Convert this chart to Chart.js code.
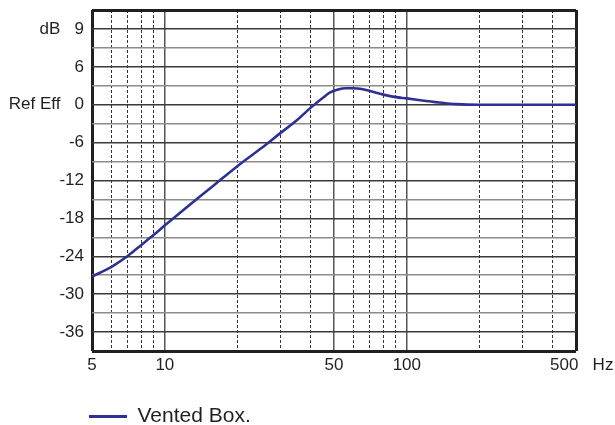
<!DOCTYPE html>
<html>
<head>
<meta charset="utf-8">
<script src="https://cdn.jsdelivr.net/npm/chart.js@4/dist/chart.umd.min.js"></script>
<style>
  html, body { margin: 0; padding: 0; background: #fff; }
  #wrap { width: 615px; height: 425px; position: relative; }
</style>
</head>
<body>
<div id="wrap"><canvas id="resp"></canvas></div>
<script>
// response (Hz / dB)
const freqHz = [5, 6, 7, 8, 9, 10, 12, 14, 16, 20, 25, 30, 35, 40, 45, 48, 52, 56, 60, 65, 70, 80, 90, 100, 120, 140, 160, 200, 250, 300, 400, 500];
const ventedDb = [-27.2, -25.7, -24.0, -22.2, -20.6, -19.1, -16.6, -14.5, -12.7, -9.7, -6.9, -4.5, -2.5, -0.5, 1.1, 1.9, 2.4, 2.6, 2.6, 2.5, 2.2, 1.6, 1.2, 1.0, 0.6, 0.3, 0.1, 0.0, 0.0, 0.0, 0.0, 0.0];

const xTicks = [5, 6, 7, 8, 9, 10, 20, 30, 40, 50, 60, 70, 80, 90, 100, 200, 300, 400, 500];
const xSolid = [10, 50, 100];
const xTickLabels = { 5: "5", 10: "10", 50: "50", 100: "100", 500: "500     " };

const yTicks = [-39, -36, -33, -30, -27, -24, -21, -18, -15, -12, -9, -6, -3, 0, 3, 6, 9, 12, 15];
const yTickLabels = { "-36": "-36", "-30": "-30", "-24": "-24", "-18": "-18", "-12": "-12", "-6": "-6", "0": "Ref Eff   0", "6": "6", "12": "dB   9" };

const FONT = '"Liberation Sans", Arial, sans-serif';
const INK = "#231f20";
const BLUE = "#2e3192";
const TICK_SIZE = 17;
const LEGEND_LEFT = 79;

Chart.defaults.font.family = FONT;
Chart.defaults.color = INK;

const hzLabel = {
  id: "hzLabel",
  afterLayout(chart){
    // legend sits under the plot, not at the page edge
    const lg = chart.legend;
    if (lg) lg.left = LEGEND_LEFT;
  },
  afterDraw(chart){
    const { ctx, chartArea, scales } = chart;
    ctx.save();
    ctx.font = TICK_SIZE + "px " + FONT;
    ctx.fillStyle = INK;
    ctx.textAlign = "center";
    ctx.textBaseline = "middle";
    ctx.fillText("Hz", chartArea.right + 27, scales.x.top + 4 + TICK_SIZE * 0.6);
    ctx.restore();
  }
};

function isEdgeX(v){ return v === xTicks[0] || v === xTicks[xTicks.length - 1]; }
function isEdgeY(v){ return v === yTicks[0] || v === yTicks[yTicks.length - 1]; }

new Chart(document.getElementById("resp"), {
  type: "line",
  data: {
    labels: freqHz,
    datasets: [{
      label: "Vented Box.",
      data: freqHz.map((f, i) => ({ x: f, y: ventedDb[i] })),
      borderColor: BLUE,
      backgroundColor: BLUE,
      borderWidth: 2.6,
      pointRadius: 0,
      fill: false,
      cubicInterpolationMode: "monotone"
    }]
  },
  options: {
    responsive: true,
    maintainAspectRatio: false,
    animation: false,
    layout: { padding: { top: 10, right: 39, bottom: -12, left: 0 } },
    plugins: {
      tooltip: { enabled: false },
      legend: {
        position: "bottom",
        align: "start",
        labels: {
          font: { size: 21 },
          color: INK,
          boxWidth: 38,
          boxHeight: 3,
          padding: 10,
          generateLabels: chart => Chart.defaults.plugins.legend.labels.generateLabels(chart).map(l => ({ ...l, lineWidth: 0 }))
        }
      }
    },
    scales: {
      x: {
        type: "logarithmic",
        min: 5,
        max: 500,
        afterBuildTicks: s => { s.ticks = xTicks.map(v => ({ value: v })); },
        afterFit: s => { s.height = 45; s.paddingLeft = 0; s.paddingRight = 0; },
        ticks: {
          autoSkip: false,
          maxRotation: 0,
          padding: 4,
          font: { size: TICK_SIZE },
          color: INK,
          callback: v => xTickLabels[v] || ""
        },
        border: {
          display: false,
          dash: ctx => (ctx.tick && !xSolid.includes(ctx.tick.value) && !isEdgeX(ctx.tick.value)) ? [3, 2] : []
        },
        grid: {
          drawTicks: false,
          color: ctx => isEdgeX(ctx.tick.value) ? "#231f20" : (xSolid.includes(ctx.tick.value) ? "#555" : "#333"),
          lineWidth: ctx => isEdgeX(ctx.tick.value) ? 3 : (xSolid.includes(ctx.tick.value) ? 1.5 : 1)
        }
      },
      y: {
        type: "linear",
        min: -39,
        max: 15,
        afterBuildTicks: s => { s.ticks = yTicks.map(v => ({ value: v })); },
        afterFit: s => { s.width = 92; s.paddingTop = 0; s.paddingBottom = 0; },
        ticks: {
          autoSkip: false,
          padding: 8,
          font: { size: TICK_SIZE },
          color: INK,
          callback: v => yTickLabels[String(v)] || ""
        },
        border: { display: false },
        grid: {
          drawTicks: false,
          color: ctx => isEdgeY(ctx.tick.value) ? "#231f20" : (ctx.tick.value % 6 === 0 ? "#3a3a3a" : "#8c8c8c"),
          lineWidth: ctx => isEdgeY(ctx.tick.value) ? 3 : 1.5
        }
      }
    }
  },
  plugins: [hzLabel]
});
</script>
</body>
</html>
